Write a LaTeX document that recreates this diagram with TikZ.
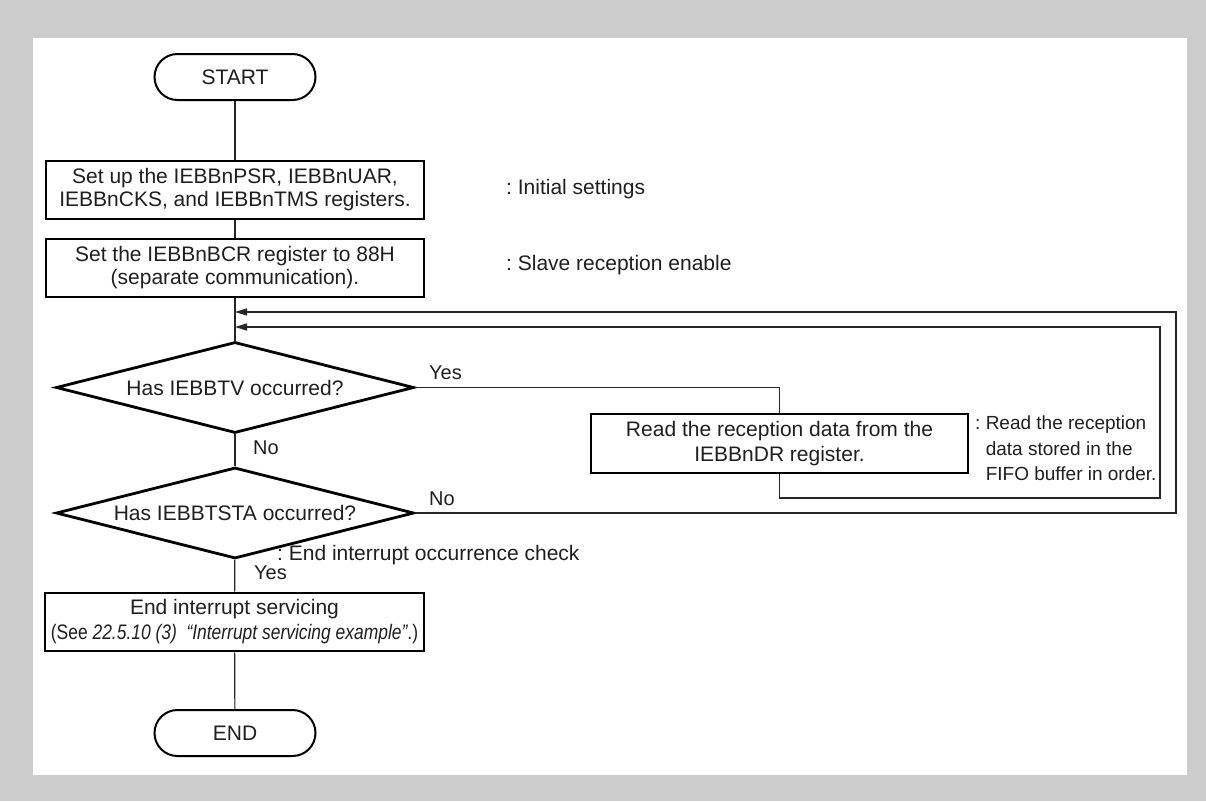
\documentclass[tikz,border=0pt]{standalone}
\usepackage{fontspec}
\setmainfont{Liberation Sans}
\usetikzlibrary{shapes.geometric,arrows.meta}
\frenchspacing
\begin{document}
\begin{tikzpicture}[x=1pt,y=-1pt,
  every node/.style={font=\fontsize{21}{23}\selectfont, text=black!88},
  term/.style={draw, line width=2pt, rounded corners=23pt, minimum width=161pt, minimum height=46pt, inner sep=0pt},
  proc/.style={draw, line width=2.8pt, minimum width=378pt, minimum height=58pt, inner sep=0pt, align=center},
  dec/.style={draw, diamond, line width=2.8pt, shape aspect=3.9, minimum width=358pt, minimum height=91pt, inner sep=0pt},
  conn/.style={line width=1.2pt, black!85},
  arr/.style={conn, -{Triangle[length=12pt,width=7pt]}},
  note/.style={anchor=west, inner sep=0pt, align=left},
  lbl/.style={anchor=west, inner sep=0pt, font=\fontsize{20}{24}\selectfont}
]
\fill[gray!40] (0,0) rectangle (1206,801);
\fill[white] (33,38) rectangle (1187,775);

\node[term] (start) at (235,77) {START};
\node[proc] (b1) at (235,190) {Set up the IEBBnPSR, IEBBnUAR,\\IEBBnCKS, and IEBBnTMS registers.};
\node[proc] (b2) at (235,268) {Set the IEBBnBCR register to 88H\\(separate communication).};
\coordinate (j1) at (235,312);
\coordinate (j2) at (235,327);
\node[dec] (d1) at (235,387.5) {Has IEBBTV occurred?};
\node[dec] (d2) at (235,513) {Has IEBBTSTA occurred?};
\node[proc, minimum width=377pt, minimum height=59pt, font=\fontsize{21}{25}\selectfont] (b3) at (779.5,443.5) {Read the reception data from the\\IEBBnDR register.};
\node[proc, minimum width=379pt, font=\fontsize{21}{25}\selectfont] (b4) at (234.5,622) {End interrupt servicing\\\scalebox{0.83}[1]{(See \textit{22.5.10 (3)\ \ “Interrupt servicing example”}.)}};
\node[term] (end) at (235,733) {END};

\draw[conn] (start) -- (b1);
\draw[conn] (b1) -- (b2);
\draw[conn] (b2) -- (d1);
\draw[conn] (d1) -- (d2);
\draw[conn] (d2) -- (b4);
\draw[conn] (b4) -- (end);
\draw[conn] (d1.east) -| (b3.north);
\coordinate (r1) at (1160,498);
\draw[arr] (b3.south) |- (r1) |- (j2);
\coordinate (r2) at (1176,513);
\draw[arr] (d2.east) -- (r2) |- (j1);

\node[lbl] (yes1) at (429,373) {Yes};
\node[lbl] (no1) at (253,448) {No};
\node[lbl] (no2) at (429,499) {No};
\node[lbl] (yes2) at (254,573) {Yes};

\node[note] (n1) at (506,189) {: Initial settings};
\node[note] (n2) at (506,265) {: Slave reception enable};
\node[note] (n3) at (277,555) {: End interrupt occurrence check};
\node[note, font=\fontsize{19}{25.5}\selectfont] (n4) at (975,448.5) {: Read the reception\\\phantom{: }data stored in the\\\phantom{: }FIFO buffer in order.};
\end{tikzpicture}
\end{document}
